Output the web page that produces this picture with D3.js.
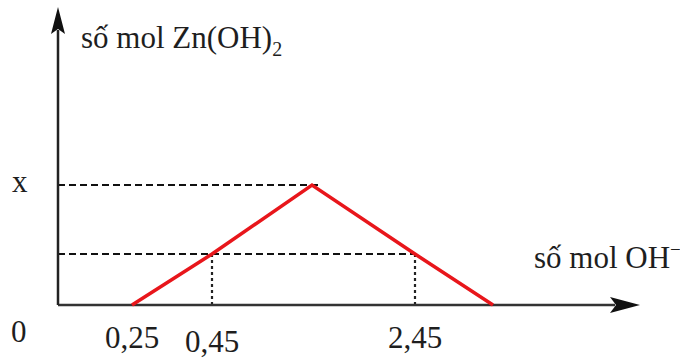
<!DOCTYPE html>
<html lang="vi">
<head>
    <meta charset="UTF-8">
    <title>Đồ thị Zn(OH)2</title>
    <script src="https://d3js.org/d3.v7.min.js"></script>
    <style>
        body { margin: 0; background: #fff; }
        text { font-family: "Liberation Serif", "DejaVu Serif", serif; fill: #1e1e1e; }
    </style>
</head>
<body>
    <div class="chart"></div>
    <script>
        // mol OH- added, mol Zn(OH)2 formed
        const molOH = [0.25, 0.45, 1.45, 2.45, 2.65];
        const molZnOH2 = [0, 0.1, 0.6, 0.1, 0];
        const xTickLabels = ["0,25", "0,45", "2,45"];
        const xTickValues = [0.25, 0.45, 2.45];
        const yTickLabel = "x";

        const width = 680;
        const height = 360;

        // schematic, not to scale -> piecewise linear scales
        const xScale = d3.scaleLinear()
            .domain([0, 0.25, 0.45, 1.45, 2.45, 2.65])
            .range([58, 132, 212, 312, 415, 493]);

        const yScale = d3.scaleLinear()
            .domain([0, 0.1, 0.6])
            .range([305, 254, 185]);

        const svg = d3.select('.chart')
            .append('svg')
            .attr('width', width)
            .attr('height', height);

        const x0 = xScale(0);
        const y0 = yScale(0);

        // dashed guide lines
        const peak = molZnOH2.indexOf(d3.max(molZnOH2));
        svg.append('line')
            .attr('x1', x0).attr('x2', xScale(molOH[peak]) + 10)
            .attr('y1', yScale(molZnOH2[peak])).attr('y2', yScale(molZnOH2[peak]))
            .attr('stroke', '#111').attr('stroke-width', 2.2)
            .attr('stroke-dasharray', '7,4');

        svg.append('line')
            .attr('x1', x0).attr('x2', xScale(molOH[3]))
            .attr('y1', yScale(molZnOH2[1])).attr('y2', yScale(molZnOH2[1]))
            .attr('stroke', '#111').attr('stroke-width', 2.2)
            .attr('stroke-dasharray', '7,4');

        svg.selectAll('.vguide')
            .data([1, 3])
            .enter()
            .append('line')
            .attr('class', 'vguide')
            .attr('x1', i => xScale(molOH[i])).attr('x2', i => xScale(molOH[i]))
            .attr('y1', i => yScale(molZnOH2[i])).attr('y2', y0)
            .attr('stroke', '#222').attr('stroke-width', 2.2)
            .attr('stroke-dasharray', '3,3');

        // axes
        svg.append('line')
            .attr('x1', x0).attr('x2', 615)
            .attr('y1', y0).attr('y2', y0)
            .attr('stroke', '#333').attr('stroke-width', 2.5);
        svg.append('line')
            .attr('x1', x0).attr('x2', x0)
            .attr('y1', y0).attr('y2', 30)
            .attr('stroke', '#222').attr('stroke-width', 2.5);

        // arrow heads
        svg.append('path')
            .attr('d', `M640,${y0} L610,${y0 - 8} L616,${y0} L610,${y0 + 8} Z`)
            .attr('fill', '#111');
        svg.append('path')
            .attr('d', `M${x0},7 L${x0 - 7},34 L${x0},29 L${x0 + 7},34 Z`)
            .attr('fill', '#111');

        // red line
        const line = d3.line()
            .x((d, i) => xScale(molOH[i]))
            .y(d => yScale(d));

        svg.append('path')
            .datum(molZnOH2)
            .attr('d', line)
            .attr('fill', 'none')
            .attr('stroke', '#e8161b')
            .attr('stroke-width', 3.5)
            .attr('stroke-linejoin', 'miter');

        // labels
        const fs = 31;
        const yl = svg.append('text')
            .attr('x', 81).attr('y', 48)
            .attr('font-size', fs);
        yl.append('tspan').text('số mol Zn(OH)');
        yl.append('tspan').attr('font-size', 20).attr('dy', 8).text('2');

        const xl = svg.append('text')
            .attr('x', 534).attr('y', 268)
            .attr('font-size', fs);
        xl.append('tspan').text('số mol OH');
        xl.append('tspan').attr('font-size', 19).attr('dy', -12).text('−');

        svg.append('text')
            .attr('x', 12).attr('y', 192)
            .attr('font-size', fs)
            .text(yTickLabel);

        svg.append('text')
            .attr('x', 11).attr('y', 342)
            .attr('font-size', fs)
            .text('0');

        svg.selectAll('.xtick')
            .data(xTickValues)
            .enter()
            .append('text')
            .attr('class', 'xtick')
            .attr('x', d => xScale(d))
            .attr('y', (d, i) => i === 1 ? 352 : 348)
            .attr('text-anchor', 'middle')
            .attr('font-size', fs)
            .text((d, i) => xTickLabels[i]);
    </script>
</body>
</html>
